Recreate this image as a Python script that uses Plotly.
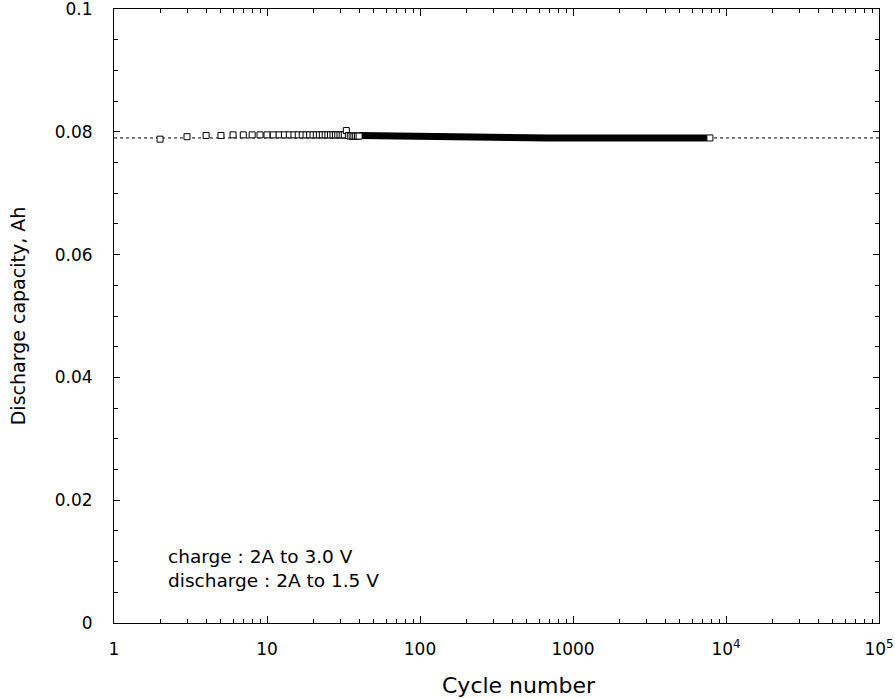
import plotly.graph_objects as go

# ---- data ----
early_cycles = [2, 3, 4, 5, 6, 7, 8, 9, 10, 11, 12, 13, 14, 15, 16, 17, 18, 19, 20,
                21, 22, 23, 24, 25, 26, 27, 28, 29, 30, 31, 32, 33, 34, 35, 36, 37, 38, 39, 40]
early_capacity = [0.0788, 0.0792, 0.0794, 0.0794, 0.0795, 0.0795, 0.0795, 0.0795, 0.0795,
                  0.0795, 0.0795, 0.0795, 0.0795, 0.0795, 0.0795, 0.0795, 0.0795, 0.0795,
                  0.0795, 0.0795, 0.0795, 0.0795, 0.0795, 0.0795, 0.0795, 0.0795, 0.0795,
                  0.0795, 0.0795, 0.0795, 0.0795, 0.0802, 0.0794, 0.0793, 0.0793, 0.0793,
                  0.0793, 0.0793, 0.0793]

# dense region (markers overlap into a solid band)
dense_cycles = [40, 60, 100, 175, 300, 700, 1500, 3000, 5000, 7500]
dense_capacity = [0.0794, 0.0793, 0.0793, 0.0792, 0.0791, 0.0790, 0.0790, 0.0790, 0.0790, 0.0790]

last_cycle = [7850]
last_capacity = [0.0790]

ref_x = [1, 100000]
ref_y = [0.0790, 0.0790]

x_tickvals = [1, 10, 100, 1000, 10000, 100000]
x_ticktext = ["1", "10", "100", "1000", "10<sup>4</sup>", "10<sup>5</sup>"]
y_tickvals = [0, 0.02, 0.04, 0.06, 0.08, 0.1]
y_ticktext = ["0", "0.02", "0.04", "0.06", "0.08", "0.1"]

FONT = "DejaVu Sans, Arial, sans-serif"

fig = go.Figure()
fig.add_trace(go.Scatter(x=ref_x, y=ref_y, mode="lines",
                         line=dict(color="black", width=1, dash="dot"),
                         showlegend=False, hoverinfo="skip"))
fig.add_trace(go.Scatter(x=dense_cycles, y=dense_capacity, mode="lines",
                         line=dict(color="black", width=7),
                         showlegend=False))
fig.add_trace(go.Scatter(x=early_cycles, y=early_capacity, mode="markers",
                         marker=dict(symbol="square", size=6, color="white",
                                     line=dict(color="black", width=1)),
                         showlegend=False))
fig.add_trace(go.Scatter(x=last_cycle, y=last_capacity, mode="markers",
                         marker=dict(symbol="square", size=6, color="white",
                                     line=dict(color="black", width=1)),
                         showlegend=False))

axis_common = dict(showline=True, linecolor="black", linewidth=1, mirror="allticks",
                   ticks="inside", tickcolor="black", showgrid=False, zeroline=False,
                   automargin=False, ticklabeloverflow="allow",
                   tickfont=dict(family=FONT, size=17, color="black"))

fig.update_xaxes(type="log", range=[0, 5], tickvals=x_tickvals, ticktext=x_ticktext,
                 ticklen=7, ticklabelstandoff=11,
                 minor=dict(ticks="inside", ticklen=4, tickcolor="black", dtick="D1", showgrid=False),
                 **axis_common)
fig.update_yaxes(range=[0, 0.1], tickvals=y_tickvals, ticktext=y_ticktext,
                 ticklen=6, ticklabelstandoff=17,
                 minor=dict(ticks="inside", ticklen=4, tickcolor="black", dtick=0.005, showgrid=False),
                 title=dict(text="Discharge capacity, Ah", font=dict(family=FONT, size=19, color="black"),
                            standoff=24),
                 **axis_common)

# x-axis title (sits slightly right of centre in the reference)
fig.add_annotation(x=0.529, y=-0.102, xref="paper", yref="paper", xanchor="center", yanchor="middle",
                   text="Cycle number", showarrow=False,
                   font=dict(family=FONT, size=22, color="black"))

fig.add_annotation(x=0.068, y=0.1075, xref="paper", yref="paper", xanchor="left", yanchor="middle",
                   text="charge : 2A to 3.0 V", showarrow=False,
                   font=dict(family=FONT, size=18.5, color="black"))
fig.add_annotation(x=0.068, y=0.070, xref="paper", yref="paper", xanchor="left", yanchor="middle",
                   text="discharge : 2A to 1.5 V", showarrow=False,
                   font=dict(family=FONT, size=18.5, color="black"))

fig.update_layout(width=895, height=699, margin=dict(l=114, r=16, t=9, b=76),
                  plot_bgcolor="white", paper_bgcolor="white")

fig.write_html("out.html", config={"displayModeBar": False},
               post_script="document.body.style.margin='0';")
